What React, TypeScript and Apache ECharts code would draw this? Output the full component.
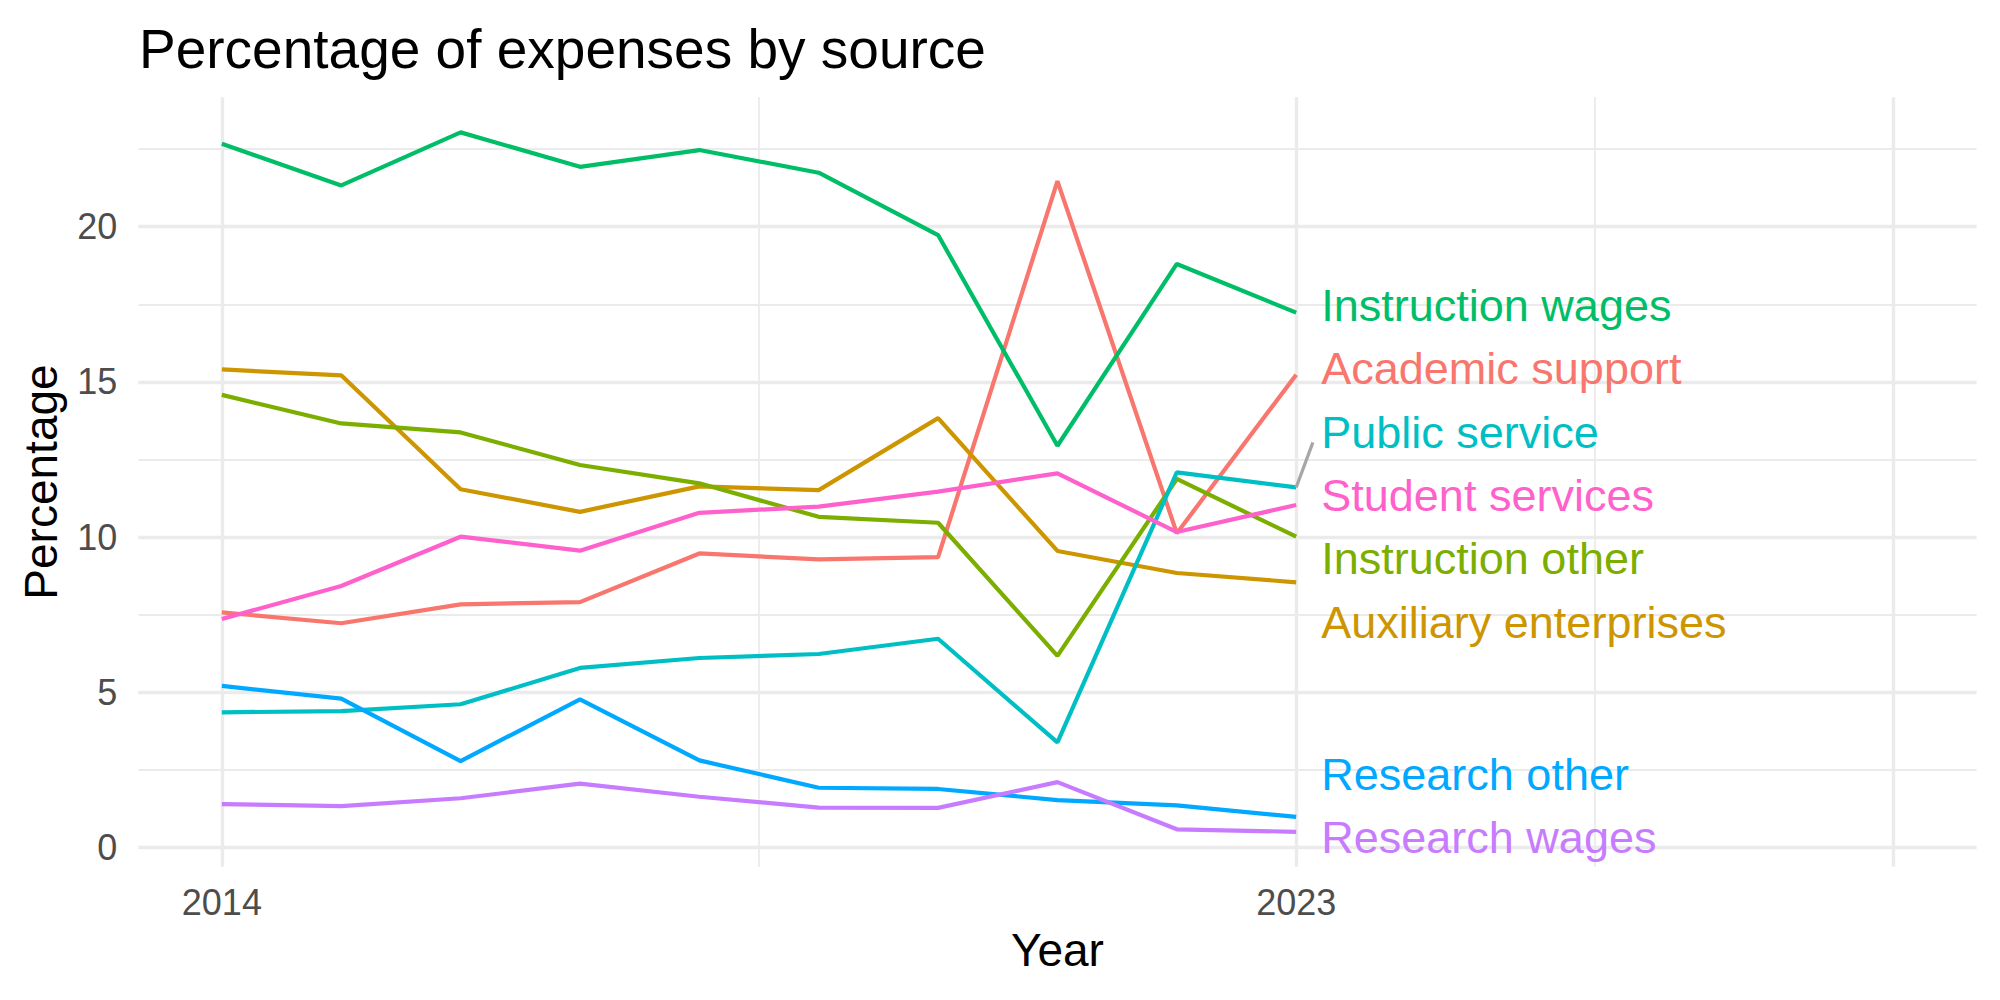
import React, { useEffect, useRef } from "react";
import * as echarts from "echarts";

// Fiscal years on the x axis
const years = [2014, 2015, 2016, 2017, 2018, 2019, 2020, 2021, 2022, 2023];

// Expense categories (ggplot hue order) and their colours
const categories = [
  "Academic support",
  "Auxiliary enterprises",
  "Instruction other",
  "Instruction wages",
  "Public service",
  "Research other",
  "Research wages",
  "Student services",
];
const colors = ["#F8766D", "#CD9600", "#7CAE00", "#00BE67", "#00BFC4", "#00A9FF", "#C77CFF", "#FF61CC"];

// Percentage of expenses per category, 2014..2023
const academicSupport = [7.57, 7.22, 7.83, 7.9, 9.47, 9.28, 9.35, 21.47, 10.12, 15.23];
const auxiliaryEnterprises = [15.4, 15.21, 11.54, 10.81, 11.63, 11.51, 13.83, 9.55, 8.84, 8.54];
const instructionOther = [14.58, 13.66, 13.37, 12.32, 11.73, 10.65, 10.46, 6.17, 11.87, 10.01];
const instructionWages = [22.67, 21.33, 23.04, 21.93, 22.47, 21.74, 19.73, 12.94, 18.8, 17.23];
const publicService = [4.35, 4.39, 4.61, 5.78, 6.1, 6.23, 6.72, 3.38, 12.08, 11.6];
const researchOther = [5.2, 4.79, 2.78, 4.77, 2.8, 1.92, 1.88, 1.52, 1.35, 0.98];
const researchWages = [1.39, 1.33, 1.58, 2.05, 1.63, 1.28, 1.27, 2.1, 0.58, 0.5];
const studentServices = [7.36, 8.42, 10.01, 9.56, 10.78, 10.98, 11.46, 12.05, 10.16, 11.03];

const seriesValues = [
  academicSupport,
  auxiliaryEnterprises,
  instructionOther,
  instructionWages,
  publicService,
  researchOther,
  researchWages,
  studentServices,
];

// Repelled end-label positions (percentage units), in category order
const labelY = [15.42, 7.25, 9.3, 17.45, 13.37, 2.35, 0.33, 11.34];
const labelYear = 2023.21;
// Leader segment for the one label that had to move away from its line
const publicServiceSegmentEnd = [2023.14, 13.05];

// Tick labels and gridline breaks
const xTickLabels = [2014, 2023];
const xMajorBreaks = [2014, 2023, 2028];
const xMinorBreaks = [2018.5, 2025.5];
const yTickLabels = [0, 5, 10, 15, 20];
const yMinorBreaks = [2.5, 7.5, 12.5, 17.5, 22.5];

const FONT = "Liberation Sans, Arial, Helvetica, sans-serif";
const GRID = "#EBEBEB";

export default function App() {
  const ref = useRef<HTMLDivElement>(null);

  useEffect(() => {
    if (!ref.current) return;
    const chart = echarts.init(ref.current, null, { renderer: "svg" });

    const gridLine = (w: number) => ({ color: GRID, width: w, type: "solid" as const, opacity: 1 });
    const gridMarks = [
      ...yTickLabels.map((v) => ({ yAxis: v, lineStyle: gridLine(3.4) })),
      ...yMinorBreaks.map((v) => ({ yAxis: v, lineStyle: gridLine(1.8) })),
      ...xMajorBreaks.map((v) => ({ xAxis: v, lineStyle: gridLine(3.4) })),
      ...xMinorBreaks.map((v) => ({ xAxis: v, lineStyle: gridLine(1.8) })),
    ];

    const lineSeries = categories.map((name, i) => ({
      type: "line",
      name,
      z: 3,
      data: years.map((y, j) => [y, seriesValues[i][j]]),
      showSymbol: false,
      symbol: "none",
      lineStyle: { color: colors[i], width: 4.2, opacity: 1 },
      itemStyle: { color: colors[i] },
      silent: true,
    }));

    const option = {
      animation: false,
      backgroundColor: "#FFFFFF",
      textStyle: { fontFamily: FONT },
      title: {
        text: "Percentage of expenses by source",
        left: 134,
        top: 16,
        textStyle: { fontFamily: FONT, fontSize: 55, fontWeight: "normal", color: "#000000" },
      },
      grid: { left: 138.3, right: 23.4, top: 97.3, bottom: 133.3, containLabel: false },
      xAxis: {
        type: "value",
        min: 2013.3,
        max: 2028.7,
        name: "Year",
        nameLocation: "middle",
        nameGap: 60,
        nameTextStyle: { fontFamily: FONT, fontSize: 46, color: "#000000", verticalAlign: "top" },
        axisLine: { show: false },
        axisTick: { show: false },
        splitLine: { show: false },
        axisLabel: {
          customValues: xTickLabels,
          fontFamily: FONT,
          fontSize: 36,
          color: "#4D4D4D",
          margin: 18,
          formatter: (v: number) => String(v),
        },
      },
      yAxis: {
        type: "value",
        min: -0.625,
        max: 24.17,
        name: "Percentage",
        nameLocation: "middle",
        nameRotate: 90,
        nameGap: 74,
        nameTextStyle: { fontFamily: FONT, fontSize: 46, color: "#000000" },
        axisLine: { show: false },
        axisTick: { show: false },
        splitLine: { show: false },
        axisLabel: {
          customValues: yTickLabels,
          fontFamily: FONT,
          fontSize: 36,
          color: "#4D4D4D",
          margin: 21,
        },
      },
      series: [
        {
          type: "line",
          name: "grid",
          z: 1,
          data: [],
          silent: true,
          markLine: {
            z: 1,
            silent: true,
            animation: false,
            symbol: ["none", "none"],
            label: { show: false },
            emphasis: { disabled: true },
            data: gridMarks,
          },
        },
        ...lineSeries,
        {
          type: "line",
          name: "segment",
          z: 3,
          silent: true,
          symbol: "none",
          showSymbol: false,
          data: [[years[years.length - 1], publicService[publicService.length - 1]], publicServiceSegmentEnd],
          lineStyle: { color: "#A6A6A6", width: 3.2, opacity: 1 },
        },
        {
          type: "scatter",
          name: "labels",
          z: 6,
          silent: true,
          symbolSize: 0,
          itemStyle: { opacity: 1 },
          data: categories.map((name, i) => ({
            value: [labelYear, labelY[i]],
            name,
            label: { color: colors[i] },
          })),
          label: {
            show: true,
            position: "right",
            distance: 0,
            align: "left",
            verticalAlign: "middle",
            opacity: 1,
            textBorderWidth: 0,
            fontFamily: FONT,
            fontSize: 45,
            formatter: (p: any) => p.name,
          },
        },
      ],
    };

    chart.setOption(option as any);
    return () => chart.dispose();
  }, []);

  return (
    <div
      ref={ref}
      style={{ position: "fixed", left: 0, top: 0, width: 2000, height: 1000, background: "#FFFFFF" }}
    />
  );
}
